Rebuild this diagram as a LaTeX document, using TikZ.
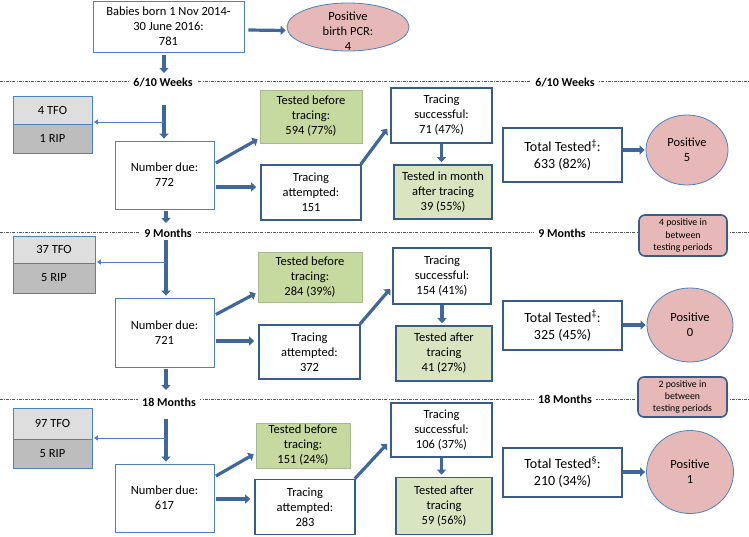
\documentclass[tikz,border=0pt]{standalone}
\usepackage{fontspec}
\setmainfont{Carlito}
\usetikzlibrary{arrows.meta,shapes.geometric,calc}
\definecolor{lblue}{HTML}{4F81BD}
\definecolor{dblue}{HTML}{385D8A}
\definecolor{arrcol}{HTML}{3F679C}
\definecolor{pinkf}{HTML}{E6B9B8}
\definecolor{greena}{HTML}{C6D99E}
\definecolor{greenb}{HTML}{D9E5C0}
\definecolor{greenline}{HTML}{A9B98F}
\definecolor{tfof}{HTML}{DEDEDE}
\definecolor{ripf}{HTML}{BDBDBD}
\begin{document}
\begin{tikzpicture}[x=1pt,y=-1pt,
  base/.style={align=center, inner sep=0pt, font=\fontsize{12.5}{15}\selectfont},
  lbox/.style={base, rectangle, draw=lblue, line width=0.8pt, fill=white},
  dbox/.style={base, rectangle, draw=dblue, line width=1.6pt, fill=white},
  gboxa/.style={base, rectangle, draw=greenline, line width=0.6pt, fill=greena},
  gboxb/.style={base, rectangle, draw=dblue, line width=1.6pt, fill=greenb},
  tbox/.style={dbox, font=\fontsize{14}{17}\selectfont},
  tfo/.style={base, rectangle, draw=lblue, line width=0.8pt, fill=tfof},
  rip/.style={base, rectangle, draw=lblue, line width=0.8pt, fill=ripf},
  posell/.style={base, ellipse, draw=lblue, line width=0.8pt, fill=pinkf, font=\fontsize{12.5}{15}\selectfont},
  btw/.style={base, rectangle, rounded corners=6pt, draw=dblue, line width=1.6pt, fill=pinkf, font=\fontsize{9.8}{12.3}\selectfont},
  arr/.style={draw=arrcol, line width=3.2pt, -{Triangle[length=5pt,width=9pt]}},
  tarr/.style={draw=lblue, line width=0.9pt, -{Triangle[length=4pt,width=5pt]}},
  dline/.style={draw=black!65, line width=0.6pt, dash pattern=on 3pt off 1.2pt on 0.8pt off 1.2pt},
  wk/.style={fill=white, font=\bfseries\fontsize{12}{13}\selectfont, inner xsep=4pt, inner ysep=1pt}
]
\useasboundingbox (0,0) rectangle (749,536);

% period lines
\draw[dline] (0,81) -- (749,81);
\node[wk] (w1a) at (163,83) {6/10 Weeks};
\node[wk] (w1b) at (565,83) {6/10 Weeks};
\draw[dline] (0,232) -- (749,232);
\node[wk] (w2a) at (168,233) {9 Months};
\node[wk] (w2b) at (562,233) {9 Months};
\draw[dline] (0,399) -- (749,399);
\node[wk] (w3a) at (169,402) {18 Months};
\node[wk] (w3b) at (565,399) {18 Months};

% top
\node[lbox, minimum width=151pt, minimum height=51pt] (top) at (168.5,26.5) {Babies born 1 Nov 2014-\\30 June 2016:\\781};
\node[posell, minimum width=122pt, minimum height=48pt,
  label={[base, yshift=-4pt]center:Positive\\birth PCR:\\4}] (birth) at (348,27) {};
\draw[arr] ([xshift=4pt,yshift=-3.5pt]top.east) -- ([xshift=-1pt,yshift=-3.5pt]birth.west);
\coordinate (e0) at (164,73);
\draw[arr, shorten <=3pt] (e0 |- top.south) -- (e0);

% row 1
\node[tfo, minimum width=79pt, minimum height=28pt] (tfo1) at (52.5,110) {4 TFO};
\node[rip, minimum width=79pt, minimum height=29pt] (rip1) at (52.5,138.5) {1 RIP};
\node[lbox, minimum width=99pt, minimum height=68pt] (nd1) at (164.5,175) {Number due:\\772};
\node[gboxa, minimum width=102pt, minimum height=53pt] (tb1) at (311,116.5) {Tested before\\tracing:\\594 (77\%)};
\node[dbox, minimum width=100pt, minimum height=55pt] (ta1) at (311,192.5) {Tracing\\attempted:\\151};
\node[dbox, minimum width=101pt, minimum height=55pt] (ts1) at (441.5,115.5) {Tracing\\successful:\\71 (47\%)};
\node[gboxb, minimum width=98pt, minimum height=54pt] (tat1) at (443,192) {Tested in month\\after tracing\\39 (55\%)};
\node[tbox, minimum width=119pt, minimum height=54pt] (tot1) at (562.5,155) {Total Tested\textsuperscript{‡}:\\633 (82\%)};
\node[posell, minimum width=82pt, minimum height=70pt] (pos1) at (687,150) {Positive\\5};
\node[btw, minimum width=88pt, minimum height=41pt] (bt1) at (683,235.5) {4 positive in\\between\\testing periods};

\coordinate (v1) at (164,105);
\draw[arr, shorten >=2pt] (v1) -- (v1 |- nd1.north);
\coordinate (h1) at (164,122);
\draw[tarr, shorten >=1.5pt] (h1) -- (h1 -| rip1.east);
\coordinate (d1) at (166,223);
\draw[arr, shorten <=1.5pt] (d1 |- nd1.south) -- (d1);
\draw[arr] ([xshift=1.5pt,yshift=12pt]nd1.east) -- ([xshift=-2pt,yshift=4pt]tb1.south west);
\coordinate (s1) at ([xshift=2pt,yshift=-12pt]nd1.east);
\draw[arr, shorten >=4pt] (s1) -- (s1 -| ta1.west);
\draw[arr] ([xshift=-1pt]ta1.north east) -- ([xshift=-3pt,yshift=15pt]ts1.south west);
\draw[arr, shorten >=2pt] (ts1.south) -- (ts1.south |- tat1.north);
\draw[arr, shorten >=1pt] (tot1.east |- pos1.west) -- (pos1.west);

% row 2
\node[tfo, minimum width=82pt, minimum height=27pt] (tfo2) at (54,249.5) {37 TFO};
\node[rip, minimum width=82pt, minimum height=30pt] (rip2) at (54,278) {5 RIP};
\node[lbox, minimum width=99pt, minimum height=69pt] (nd2) at (164.5,332.5) {Number due:\\721};
\node[gboxa, minimum width=104pt, minimum height=50pt] (tb2) at (310,277) {Tested before\\tracing:\\284 (39\%)};
\node[dbox, minimum width=101pt, minimum height=54pt] (ta2) at (309.5,352) {Tracing\\attempted:\\372};
\node[dbox, minimum width=98pt, minimum height=56pt] (ts2) at (442,276) {Tracing\\successful:\\154 (41\%)};
\node[gboxb, minimum width=96pt, minimum height=55pt] (tat2) at (444,353.5) {Tested after\\tracing\\41 (27\%)};
\node[tbox, minimum width=119pt, minimum height=49pt] (tot2) at (562.5,325.5) {Total Tested\textsuperscript{‡}:\\325 (45\%)};
\node[posell, minimum width=86pt, minimum height=74pt] (pos2) at (690,325) {Positive\\0};
\node[btw, minimum width=89pt, minimum height=40pt] (bt2) at (682.5,397) {2 positive in\\between\\testing periods};

\coordinate (v2) at (166,240);
\draw[arr, shorten >=2pt] (v2) -- (v2 |- nd2.north);
\coordinate (h2) at (166,262);
\draw[tarr, shorten >=1.5pt] (h2) -- (h2 -| rip2.east);
\coordinate (d2) at (166,390);
\draw[arr, shorten <=1.5pt] (d2 |- nd2.south) -- (d2);
\draw[arr] ([xshift=1.5pt,yshift=18pt]nd2.east) -- ([xshift=-2pt,yshift=9pt]tb2.south west);
\coordinate (s2) at ([xshift=2pt,yshift=-8.5pt]nd2.east);
\draw[arr, shorten >=4pt] (s2) -- (s2 -| ta2.west);
\draw[arr] ([xshift=-1pt]ta2.north east) -- ([xshift=-2pt,yshift=16pt]ts2.south west);
\draw[arr, shorten >=2pt] (ts2.south) -- (ts2.south |- tat2.north);
\draw[arr, shorten >=1pt] (tot2.east |- pos2.west) -- (pos2.west);

% row 3
\node[tfo, minimum width=79pt, minimum height=31pt] (tfo3) at (52.5,423.5) {97 TFO};
\node[rip, minimum width=79pt, minimum height=29pt] (rip3) at (52.5,453.5) {5 RIP};
\node[lbox, minimum width=99pt, minimum height=68pt] (nd3) at (164.5,498) {Number due:\\617};
\node[gboxa, minimum width=94pt, minimum height=45pt] (tb3) at (303,445.5) {Tested before\\tracing:\\151 (24\%)};
\node[dbox, minimum width=100pt, minimum height=55pt] (ta3) at (305,507) {Tracing\\attempted:\\283};
\node[dbox, minimum width=101pt, minimum height=54pt] (ts3) at (441.5,430) {Tracing\\successful:\\106 (37\%)};
\node[gboxb, minimum width=96pt, minimum height=57pt] (tat3) at (444,506) {Tested after\\tracing\\59 (56\%)};
\node[tbox, minimum width=119pt, minimum height=49pt] (tot3) at (562.5,472.5) {Total Tested\textsuperscript{§}:\\210 (34\%)};
\node[posell, minimum width=87pt, minimum height=83pt] (pos3) at (690,472) {Positive\\1};

\coordinate (v3) at (166,419);
\draw[arr, shorten >=2pt] (v3) -- (v3 |- nd3.north);
\coordinate (h3) at (166,438);
\draw[tarr, shorten >=1.5pt] (h3) -- (h3 -| rip3.east);
\draw[arr] ([xshift=1.5pt,yshift=22pt]nd3.east) -- ([xshift=-2pt,yshift=14pt]tb3.south west);
\coordinate (s3) at ([xshift=2pt,yshift=-1pt]nd3.east);
\draw[arr, shorten >=4pt] (s3) -- (s3 -| ta3.west);
\draw[arr] ([xshift=-1pt]ta3.north east) -- ([xshift=-3pt,yshift=14pt]ts3.south west);
\draw[arr, shorten >=2pt] (ts3.south) -- (ts3.south |- tat3.north);
\draw[arr, shorten >=1pt] (tot3.east |- pos3.west) -- (pos3.west);
\end{tikzpicture}
\end{document}
